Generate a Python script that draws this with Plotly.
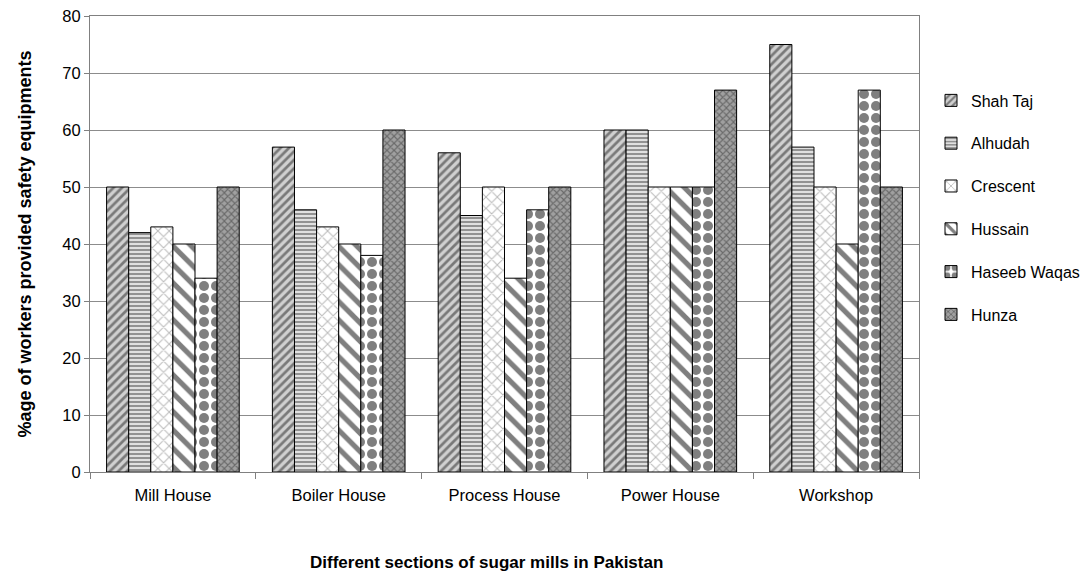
import plotly.graph_objects as go

categories = ["Mill House", "Boiler House", "Process House", "Power House", "Workshop"]
series_names = ["Shah Taj", "Alhudah", "Crescent", "Hussain", "Haseeb Waqas", "Hunza"]
shah_taj = [50, 57, 56, 60, 75]
alhudah = [42, 46, 45, 60, 57]
crescent = [43, 43, 50, 50, 50]
hussain = [40, 40, 34, 50, 40]
haseeb_waqas = [34, 38, 46, 50, 67]
hunza = [50, 60, 50, 67, 50]

values = [shah_taj, alhudah, crescent, hussain, haseeb_waqas, hunza]
patterns = [
    dict(shape="/", fgcolor="#222222", bgcolor="#d0d0d0", size=6, solidity=0.45),
    dict(shape="-", fgcolor="#333333", bgcolor="#e0e0e0", size=4, solidity=0.45),
    dict(shape="x", fgcolor="#777777", bgcolor="white", size=8, solidity=0.25),
    dict(shape="\\", fgcolor="black", bgcolor="white", size=13, solidity=0.4),
    dict(shape=".", fgcolor="black", bgcolor="white", size=12, solidity=0.55),
    dict(shape="x", fgcolor="#333333", bgcolor="#a0a0a0", size=5, solidity=0.4),
]

L, R, T, B = 90, 172, 16, 99
W, H = 1091, 571
pw, ph = W - L - R, H - T - B

fig = go.Figure()
for i, (name, vals) in enumerate(zip(series_names, values)):
    fig.add_trace(go.Bar(
        x=categories, y=vals, name=name, legendgroup=name,
        marker=dict(color="white", pattern=patterns[i],
                    line=dict(color="black", width=1)),
    ))

font = "Liberation Sans, Arial, sans-serif"
fig.update_layout(
    width=W, height=H,
    paper_bgcolor="white", plot_bgcolor="white",
    margin=dict(l=L, r=R, t=T, b=B, autoexpand=False),
    barmode="group", bargap=0.2, bargroupgap=0,
    font=dict(family=font, size=16.5, color="black"),
    showlegend=True,
    legend=dict(x=(931 - L) / pw, y=0.852, xanchor="left", yanchor="top",
                tracegroupgap=19, font=dict(size=16),
                itemwidth=30, bgcolor="rgba(0,0,0,0)"),
    xaxis=dict(showline=True, linecolor="#808080", mirror=True,
               ticks="outside", ticklen=6, tickcolor="#808080",
               tickson="boundaries", tickfont=dict(size=16.5),
               ticklabelstandoff=8, automargin=False),
    yaxis=dict(range=[0, 80], dtick=10, showline=True, linecolor="#808080",
               mirror=True, ticks="outside", ticklen=5, tickcolor="#808080",
               showgrid=True, gridcolor="#8c8c8c", gridwidth=1,
               tickfont=dict(size=16.5), zeroline=False, automargin=False,
               title=dict(text="<b>%age of workers provided safety equipments</b>",
                          font=dict(size=18), standoff=26)),
    annotations=[dict(text="<b>Different sections of sugar mills in Pakistan</b>",
                      x=(486 - L) / pw, y=(H - B - 562) / ph,
                      xref="paper", yref="paper", showarrow=False,
                      xanchor="center", yanchor="middle",
                      font=dict(size=17))],
)

fig.write_html("out.html", config={"displayModeBar": False},
               post_script="document.body.style.margin='0';document.body.style.padding='0';")
